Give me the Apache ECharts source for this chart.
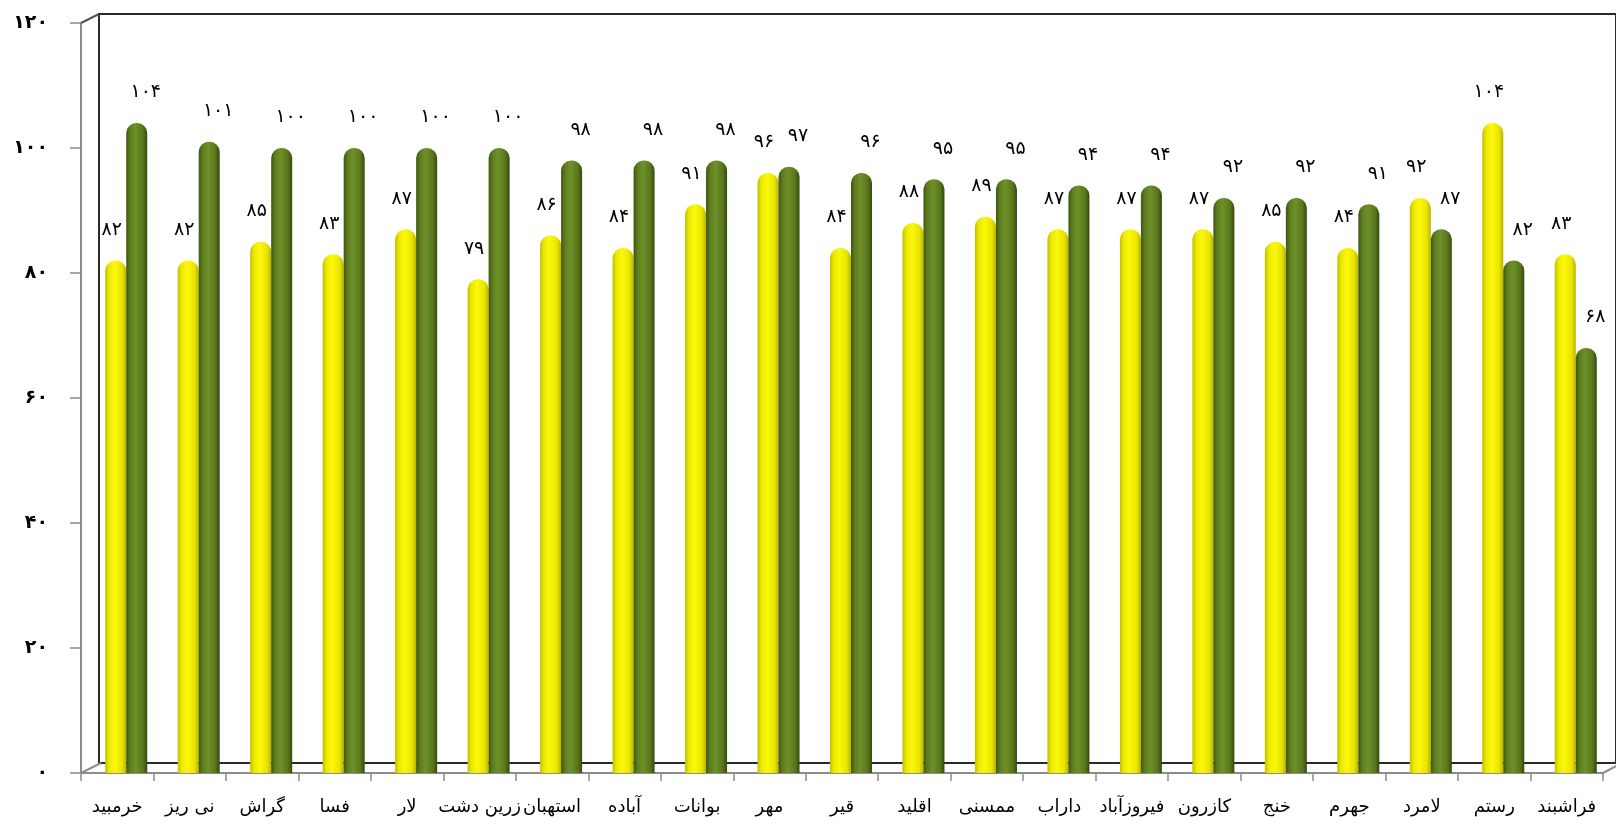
<!DOCTYPE html>
<html>
<head>
<meta charset="utf-8">
<script src="https://cdn.jsdelivr.net/npm/echarts@6/dist/echarts.min.js"></script>
<style>
html,body{margin:0;padding:0;background:#fff;}
#chart{width:1616px;height:825px;}
</style>
</head>
<body>
<div id="chart"></div>
<script>
const categories = ['خرمبید','نی ریز','گراش','فسا','لار','زرین دشت','استهبان','آباده','بوانات','مهر','قیر','اقلید','ممسنی','داراب','فیروزآباد','کازرون','خنج','جهرم','لامرد','رستم','فراشبند'];
const yellowValues = [82, 82, 85, 83, 87, 79, 86, 84, 91, 96, 84, 88, 89, 87, 87, 87, 85, 84, 92, 104, 83];
const greenValues = [104, 101, 100, 100, 100, 100, 98, 98, 98, 97, 96, 95, 95, 94, 94, 92, 92, 91, 87, 82, 68];
const yTicks = [0, 20, 40, 60, 80, 100, 120];

const faDigits = ['۰','۱','۲','۳','۴','۵','۶','۷','۸','۹'];
function toFa(v){ return String(v).replace(/[0-9]/g, d => faDigits[+d]); }

const FONT = 'DejaVu Sans';

const yellowFill = {type:'linear', x:0, y:0, x2:1, y2:0, colorStops:[
  {offset:0, color:'#c2bd00'},{offset:0.18, color:'#ece800'},{offset:0.45, color:'#fbf80a'},
  {offset:0.8, color:'#e9e400'},{offset:1, color:'#b9b300'}]};
const greenFill = {type:'linear', x:0, y:0, x2:1, y2:0, colorStops:[
  {offset:0, color:'#3e5610'},{offset:0.2, color:'#5f7f20'},{offset:0.45, color:'#6f9028'},
  {offset:0.8, color:'#58761c'},{offset:1, color:'#34490c'}]};

const chart = echarts.init(document.getElementById('chart'), null, {renderer:'canvas'});
chart.setOption({
  animation:false,
  backgroundColor:'#ffffff',
  grid:[
    {left:81, top:23, right:13, bottom:52},
    {left:90, top:23, right:4, bottom:52},
    {left:99, top:14, right:-6, bottom:62, show:true, borderColor:'#2a2a2a', borderWidth:2, backgroundColor:'transparent'}
  ],
  xAxis:[
    {type:'category', gridIndex:0, data:categories, boundaryGap:true,
     axisLine:{show:true, lineStyle:{color:'#8c8c8c', width:2}},
     axisTick:{show:true, interval:0, length:8, lineStyle:{color:'#8c8c8c', width:1.5}},
     axisLabel:{interval:0, margin:25, color:'#000', fontFamily:FONT, fontSize:18}},
    {type:'category', gridIndex:1, data:categories, show:false},
    {type:'category', gridIndex:2, data:categories, show:false}
  ],
  yAxis:[
    {type:'value', gridIndex:0, min:0, max:120, interval:20,
     axisLine:{show:true, lineStyle:{color:'#8c8c8c', width:2}},
     axisTick:{show:true, length:11, lineStyle:{color:'#8c8c8c', width:1.5}},
     splitLine:{show:false},
     axisLabel:{margin:33, color:'#000', fontFamily:FONT, fontSize:19, fontWeight:'bold',
       formatter: v => yTicks.indexOf(v) >= 0 ? toFa(v) : ''}},
    {type:'value', gridIndex:1, min:0, max:120, interval:20, show:false, splitLine:{show:false}},
    {type:'value', gridIndex:2, min:0, max:120, show:false, splitLine:{show:false}}
  ],
  graphic:[
    {type:'line', shape:{x1:81, y1:773, x2:101, y2:763}, style:{stroke:'#8c8c8c', lineWidth:2}, z:5},
    {type:'line', shape:{x1:81, y1:23, x2:99, y2:14}, style:{stroke:'#555', lineWidth:2}, z:5},
    {type:'line', shape:{x1:1603, y1:773, x2:1618, y2:765}, style:{stroke:'#8c8c8c', lineWidth:2}, z:5}
  ],
  series:[
    {type:'bar', xAxisIndex:1, yAxisIndex:1, data:yellowValues, barWidth:21, barGap:'0%',
     itemStyle:{color:yellowFill, borderRadius:[10,10,0,0]},
     label:{show:true, position:'top', distance:4, offset:[-4,-17], color:'#000', fontFamily:FONT, fontSize:19,
       formatter: p => toFa(p.value)}},
    {type:'bar', xAxisIndex:1, yAxisIndex:1, data:greenValues, barWidth:21, barGap:'0%',
     itemStyle:{color:greenFill, borderRadius:[10,10,0,0]},
     label:{show:true, position:'top', distance:4, offset:[9,-17], color:'#000', fontFamily:FONT, fontSize:19,
       formatter: p => toFa(p.value)}}
  ]
});
</script>
</body>
</html>
